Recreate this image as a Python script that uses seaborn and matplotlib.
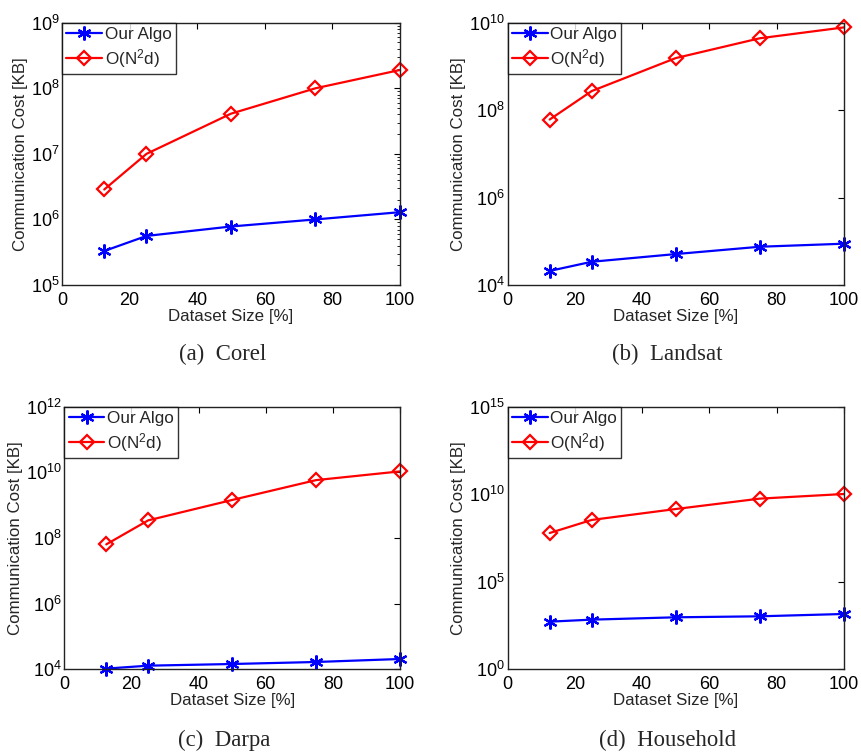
import numpy as np
import pandas as pd
import matplotlib
matplotlib.use("Agg")
import matplotlib.pyplot as plt
import seaborn as sns
from matplotlib.ticker import LogLocator, NullLocator, LogFormatterSciNotation

sns.set_theme(style="white")
plt.rcParams['font.family'] = ['Liberation Sans', 'DejaVu Sans']
plt.rcParams['mathtext.fontset'] = 'custom'
plt.rcParams['mathtext.rm'] = 'Liberation Sans'
plt.rcParams['mathtext.it'] = 'Liberation Sans'

# ---- data ----
dataset_size = [12.5, 25, 50, 75, 100]

corel_ours = [3.3e5, 5.6e5, 7.8e5, 1.0e6, 1.29e6]
corel_n2d = [2.86e6, 1.0e7, 4.1e7, 1.0e8, 1.9e8]

landsat_ours = [2.1e4, 3.4e4, 5.1e4, 7.5e4, 8.8e4]
landsat_n2d = [6.1e7, 2.73e8, 1.55e9, 4.4e9, 7.8e9]

darpa_ours = [1.05e4, 1.29e4, 1.45e4, 1.67e4, 2.06e4]
darpa_n2d = [6.4e7, 3.45e8, 1.44e9, 5.8e9, 1.07e10]

household_ours = [527, 686, 933, 1064, 1445]
household_n2d = [6.1e7, 3.4e8, 1.43e9, 5.6e9, 1.03e10]

captions = ["(a)  Corel", "(b)  Landsat", "(c)  Darpa", "(d)  Household"]
series_labels = ["Our Algo", "O(N$^2$d)"]
ylims = [(1e5, 1e9), (1e4, 1e10), (1e4, 1e12), (1e0, 1e15)]
ytick_vals = [[1e5, 1e6, 1e7, 1e8, 1e9],
              [1e4, 1e6, 1e8, 1e10],
              [1e4, 1e6, 1e8, 1e10, 1e12],
              [1e0, 1e5, 1e10, 1e15]]
xticks = [0, 20, 40, 60, 80, 100]

ours_all = [corel_ours, landsat_ours, darpa_ours, household_ours]
n2d_all = [corel_n2d, landsat_n2d, darpa_n2d, household_n2d]

W, H = 862, 754
fig = plt.figure(figsize=(W / 100, H / 100), dpi=100)

# axes boxes in pixels: left, top, right, bottom
boxes = [(62, 22.7, 400, 285),
         (507.7, 22.7, 843.7, 285),
         (64.3, 406.7, 400, 669.3),
         (507.7, 406.7, 843.7, 669.3)]
caption_y = [354, 354, 740, 740]

for i in range(4):
    l, t, r, b = boxes[i]
    ax = fig.add_axes([l / W, 1 - b / H, (r - l) / W, (b - t) / H])
    df = pd.DataFrame({"x": dataset_size, "ours": ours_all[i], "n2d": n2d_all[i]})
    sns.lineplot(data=df, x="x", y="ours", ax=ax, color="blue", linewidth=1.6,
                 marker=(6, 2, 0), markersize=10, markeredgewidth=1.6,
                 markeredgecolor="blue", label=series_labels[0], clip_on=False)
    sns.lineplot(data=df, x="x", y="n2d", ax=ax, color="red", linewidth=1.6,
                 marker="D", markersize=7.5, markerfacecolor="none",
                 markeredgewidth=1.6, markeredgecolor="red", label=series_labels[1],
                 clip_on=False)
    ax.set_yscale("log")
    ax.set_xlim(0, 100)
    ax.set_ylim(*ylims[i])
    ax.set_xticks(xticks)
    ax.set_yticks(ytick_vals[i])
    ax.yaxis.set_major_formatter(LogFormatterSciNotation())
    if i == 0:
        ax.yaxis.set_minor_locator(LogLocator(base=10, subs=np.arange(2, 10)))
    else:
        ax.yaxis.set_minor_locator(NullLocator())
    ax.tick_params(which="both", direction="in", top=True, right=True,
                   labelsize=13, colors="black")
    ax.tick_params(axis="x", pad=5)
    ax.tick_params(axis="y", pad=2)
    ax.tick_params(which="major", length=4, width=0.8)
    ax.tick_params(which="minor", length=2, width=0.6)
    for s in ax.spines.values():
        s.set_color("#222222")
        s.set_linewidth(1.0)
    ax.set_xlabel("Dataset Size [%]", fontsize=12.2, labelpad=0)
    ax.set_ylabel("Communication Cost [KB]", fontsize=12.2, labelpad=2)
    leg = ax.legend(loc="upper left", fontsize=12.3, frameon=True, fancybox=False,
                    borderaxespad=0, handlelength=2.1, handletextpad=0.15,
                    borderpad=0.25, labelspacing=0.3)
    leg.get_frame().set_edgecolor("black")
    leg.get_frame().set_linewidth(1.0)
    cx = ((l + r) / 2 - 8) / W
    fig.text(cx, 1 - caption_y[i] / H, captions[i], ha="center", va="center",
             fontsize=16.4, family=["Liberation Serif", "DejaVu Serif"])

fig.savefig("out.png", dpi=100, facecolor="white")
